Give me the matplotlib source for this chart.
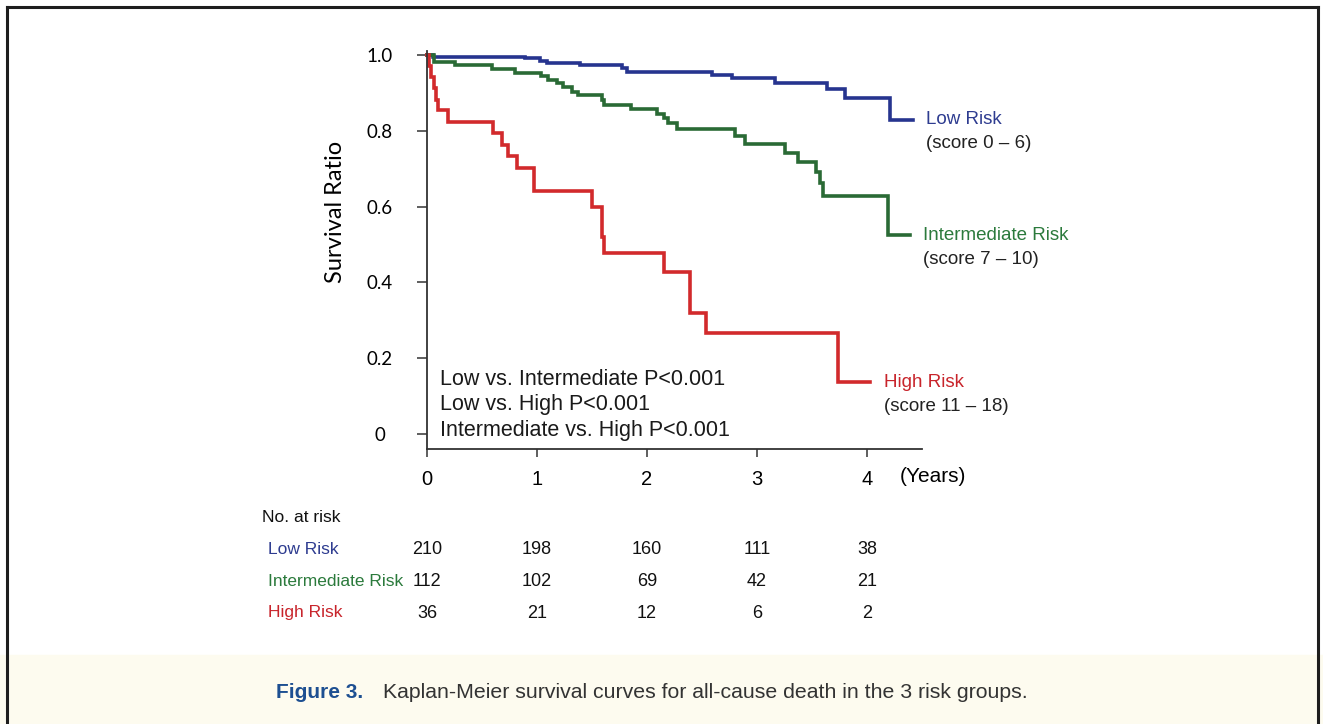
"""
Kaplan-Meier survival curves, 3 risk groups, with numbers-at-risk table.
"""
import matplotlib
matplotlib.use("Agg")
import matplotlib.pyplot as plt
import matplotlib.transforms as mtransforms
from matplotlib.lines import Line2D
from matplotlib.patches import Rectangle

# --- datos ---
groups = ["Low Risk", "Intermediate Risk", "High Risk"]
score_ranges = ["(score 0 \u2013 6)", "(score 7 \u2013 10)", "(score 11 \u2013 18)"]

times_low = [0, 0.05, 0.89, 1.03, 1.09, 1.39, 1.77, 1.82, 2.59, 2.77, 3.16, 3.64, 3.80, 4.21, 4.42]
surv_low = [1.0, 0.995, 0.991, 0.985, 0.978, 0.974, 0.965, 0.956, 0.947, 0.938, 0.927, 0.910, 0.886, 0.829, 0.829]

times_int = [0, 0.06, 0.25, 0.59, 0.80, 1.04, 1.10, 1.18, 1.24, 1.32, 1.37, 1.59, 1.61, 1.85,
             2.09, 2.15, 2.19, 2.27, 2.80, 2.89, 3.25, 3.37, 3.54, 3.57, 3.60, 4.19, 4.39]
surv_int = [1.0, 0.982, 0.974, 0.962, 0.953, 0.945, 0.934, 0.927, 0.916, 0.903, 0.894, 0.881, 0.868, 0.857,
            0.844, 0.833, 0.820, 0.804, 0.785, 0.765, 0.742, 0.719, 0.692, 0.662, 0.628, 0.525, 0.525]

times_high = [0, 0.02, 0.04, 0.06, 0.08, 0.10, 0.19, 0.60, 0.68, 0.74, 0.82, 0.97, 1.50, 1.59, 1.61,
              2.15, 2.39, 2.54, 3.74, 4.03]
surv_high = [1.0, 0.972, 0.943, 0.913, 0.881, 0.855, 0.824, 0.793, 0.762, 0.733, 0.703, 0.640, 0.600, 0.520,
             0.478, 0.428, 0.320, 0.267, 0.136, 0.136]

risk_years = [0, 1, 2, 3, 4]
at_risk_low = [210, 198, 160, 111, 38]
at_risk_int = [112, 102, 69, 42, 21]
at_risk_high = [36, 21, 12, 6, 2]

pvalue_lines = ["Low vs. Intermediate P<0.001", "Low vs. High P<0.001", "Intermediate vs. High P<0.001"]

line_colors = ["#26348f", "#2a6a35", "#d22a2c"]
text_colors = ["#2e3c90", "#2b7a3c", "#c8242b"]

FONT = ["Liberation Sans", "DejaVu Sans"]
plt.rcParams["font.family"] = FONT

fig = plt.figure(figsize=(13.23, 7.24), dpi=100)

# banda del pie de figura y marco
fig.patches.append(Rectangle((0, 0), 1, 1 - 655 / 724, transform=fig.transFigure,
                             color="#fdfbef", zorder=0))
for xs, ys in [([7 / 1323, 7 / 1323], [0, 1 - 7 / 724]),
               ([7 / 1323, 1318 / 1323], [1 - 7 / 724, 1 - 7 / 724]),
               ([1318 / 1323, 1318 / 1323], [0, 1 - 7 / 724])]:
    fig.add_artist(Line2D(xs, ys, transform=fig.transFigure, color="#1e1e1e", lw=2.2))

ax = fig.add_axes([427 / 1323, 1 - 449.2 / 724, 495 / 1323, 398 / 724])
ax.set_xlim(0, 4.5)
ax.set_ylim(-0.04, 1.01)

series = [(times_low, surv_low), (times_int, surv_int), (times_high, surv_high)]
for (t, s), c in zip(series, line_colors):
    ax.step(t, s, where="post", color=c, lw=2.6, solid_joinstyle="miter", clip_on=False)

# etiquetas de cada curva al final
for (t, s), name, rng, c in zip(series, groups, score_ranges, text_colors):
    ax.text(t[-1] + 0.12, s[-1], name, color=c, fontsize=13.5, va="center", ha="left")
    ax.annotate(rng, (t[-1] + 0.12, s[-1]), xytext=(0, -24), textcoords="offset pixels",
                color="#222222", fontsize=13.5, va="center", ha="left", annotation_clip=False)

# p-valores
for i, txt in enumerate(pvalue_lines):
    ax.text(0.12, 0.145 - i * 0.068, txt, fontsize=15.5, color="#1a1a1a", va="center", ha="left")

for sp in ["top", "right"]:
    ax.spines[sp].set_visible(False)
for sp in ["left", "bottom"]:
    ax.spines[sp].set_color("#333333")
    ax.spines[sp].set_linewidth(1.3)

ax.set_yticks([0, 0.2, 0.4, 0.6, 0.8, 1.0])
ax.set_yticklabels(["0", "0.2", "0.4", "0.6", "0.8", "1.0"])
ax.tick_params(axis="y", length=7, width=1.1, color="#333333", pad=27, labelsize=13.5)
for lab in ax.get_yticklabels():
    lab.set_ha("center")
    lab.set_family(["Lato", "DejaVu Sans"])
ax.set_xticks(risk_years)
ax.tick_params(axis="x", length=6, width=1.1, color="#333333", pad=9, labelsize=14.5)
ax.set_ylabel("Survival Ratio", fontsize=17, family=["Lato", "DejaVu Sans"])
ax.yaxis.set_label_coords((346 - 427) / 495, (449.2 - 212) / 398)

ax.text(4.3, -0.112, "(Years)", fontsize=15, va="center", ha="left")

# tabla de número en riesgo
trans = mtransforms.blended_transform_factory(ax.transData, fig.transFigure)
fig.text(262 / 1323, 1 - 517 / 724, "No. at risk", fontsize=12.5, va="center", ha="left", color="#111111")
rows = [at_risk_low, at_risk_int, at_risk_high]
row_y = [1 - 550 / 724, 1 - 581 / 724, 1 - 613 / 724]
for name, vals, yy, c in zip(groups, rows, row_y, text_colors):
    fig.text(268 / 1323, yy, name, fontsize=12.5, va="center", ha="left", color=c)
    for yr, v in zip(risk_years, vals):
        ax.text(yr, yy, str(v), transform=trans, fontsize=13, va="center", ha="center", color="#111111")

# pie
fig.text(320 / 1323, 1 - 693 / 724, "Figure 3.", fontsize=15, fontweight="bold", color="#1d4f91",
         va="center", ha="center", family=["Liberation Sans Narrow", "Liberation Sans", "DejaVu Sans"])
fig.text(383 / 1323, 1 - 693 / 724,
         "Kaplan-Meier survival curves for all-cause death in the 3 risk groups.",
         fontsize=15.3, color="#333333", va="center", ha="left")

fig.savefig("out.png", dpi=100)
